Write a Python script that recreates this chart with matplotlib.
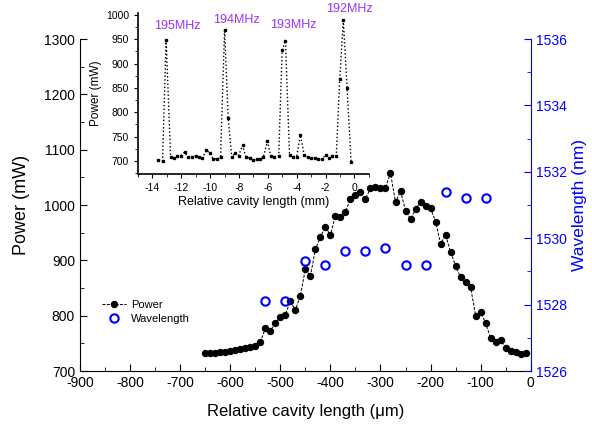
import matplotlib

matplotlib.use('Agg')
import matplotlib.pyplot as plt
from matplotlib.ticker import MultipleLocator

plt.rcParams['font.family'] = ['Liberation Sans', 'DejaVu Sans']
plt.rcParams['axes.unicode_minus'] = False  # plain hyphen like the reference

# main curve: output power vs relative cavity length (um)
power_x = list(range(-650, 0, 10))
power_mw = [
  732, 732, 733, 734, 735, 736, 738, 740, 741, 743,
  746, 752, 777, 773, 786, 798, 802, 826, 810, 836,
  884, 871, 920, 942, 961, 945, 981, 979, 988, 1011,
  1018, 1024, 1011, 1030, 1032, 1031, 1031, 1058, 1005, 1025,
  990, 975, 992, 1006, 999, 994, 970, 930, 946, 915,
  890, 869, 861, 851, 800, 807, 786, 760, 753, 756,
  741, 737, 735, 731, 733,
]

# lasing wavelength (nm)
wl_x = [-530, -490, -450, -410, -370, -330, -290, -250, -210, -170, -130, -90]
wl_nm = [1528.1, 1528.1, 1529.3, 1529.2, 1529.6, 1529.6, 1529.7, 1529.2,
         1529.2, 1531.4, 1531.2, 1531.2]

# inset: power vs relative cavity length (mm)
inset_x = [
  -13.6, -13.3, -13.05, -12.74, -12.5, -12.27, -12.04, -11.76, -11.53, -11.23,
  -11.0, -10.76, -10.53, -10.26, -10.02, -9.79, -9.5, -9.28, -9.0, -8.75,
  -8.5, -8.26, -8.03, -7.75, -7.52, -7.24, -7.01, -6.78, -6.54, -6.31,
  -6.04, -5.8, -5.55, -5.25, -5.01, -4.78, -4.5, -4.27, -4.01, -3.74,
  -3.49, -3.21, -2.98, -2.75, -2.51, -2.28, -2.0, -1.77, -1.54, -1.26,
  -1.02, -0.77, -0.51, -0.23,
]
inset_p = [
  701, 700, 949, 708, 705, 710, 711, 718, 707, 709,
  710, 708, 706, 722, 716, 704, 704, 707, 970, 789,
  707, 717, 711, 732, 707, 706, 701, 703, 703, 708,
  740, 711, 709, 710, 927, 947, 712, 709, 709, 753,
  713, 707, 705, 705, 703, 703, 712, 706, 710, 710,
  869, 989, 849, 698,
]
peak_labels = ['195MHz', '194MHz', '193MHz', '192MHz']
peak_label_x = [-12.3, -8.2, -4.25, -0.35]
peak_label_y = [977, 989, 979, 1013]

BLUE = '#0000ff'
PURPLE = '#9933ff'

fig = plt.figure(figsize=(5.92, 4.30), dpi=100)
ax = fig.add_axes([0.1351, 0.1372, 0.7614, 0.7721])
ax2 = ax.twinx()

ln1, = ax.plot(power_x, power_mw, '--o', color='black', lw=0.7, ms=4.3,
               dashes=(3, 1.5), label='Power', zorder=3)
ln2, = ax2.plot(wl_x, wl_nm, 'o', ls='none', mfc='none', mec=BLUE, mew=1.5,
                ms=6, label='Wavelength')

ax.set_xlim(-900, 0)
ax.set_ylim(700, 1300)
ax2.set_ylim(1526, 1536)
ax.xaxis.set_major_locator(MultipleLocator(100))
ax.xaxis.set_minor_locator(MultipleLocator(50))
ax.yaxis.set_major_locator(MultipleLocator(100))
ax.yaxis.set_minor_locator(MultipleLocator(50))
ax2.yaxis.set_major_locator(MultipleLocator(2))
ax2.yaxis.set_minor_locator(MultipleLocator(1))

for a in (ax, ax2):
  a.spines['top'].set_visible(False)
ax2.spines['left'].set_visible(False)
ax2.spines['bottom'].set_visible(False)
ax2.spines['right'].set_color(BLUE)
ax.spines['right'].set_visible(False)

ax.tick_params(which='both', direction='in', labelsize=10)
ax.tick_params(which='major', length=5)
ax.tick_params(which='minor', length=3)
ax2.tick_params(which='both', direction='in', colors=BLUE, labelsize=10)
ax2.tick_params(which='major', length=5)
ax2.tick_params(which='minor', length=3)

ax.set_xlabel('Relative cavity length (μm)', fontsize=12, labelpad=10)
ax.set_ylabel('Power (mW)', fontsize=13, labelpad=10)
ax2.set_ylabel('Wavelength (nm)', fontsize=12.5, color=BLUE, labelpad=4)

fig.legend(handles=[ln1, ln2], loc='upper left', bbox_to_anchor=(0.155, 0.325),
           frameon=False, fontsize=8, handlelength=2.2, handletextpad=0.4,
           labelspacing=0.3)

# inset
ins = fig.add_axes([0.2331, 0.5953, 0.390, 0.3744])
ins.patch.set_alpha(0)
ins.plot(inset_x, inset_p, ':', color='black', lw=1, marker='s', ms=1.5)
ins.set_xlim(-15, 1)
ins.set_ylim(673, 1004)
ins.xaxis.set_major_locator(MultipleLocator(2))
ins.xaxis.set_minor_locator(MultipleLocator(1))
ins.yaxis.set_major_locator(MultipleLocator(50))
ins.yaxis.set_minor_locator(MultipleLocator(25))
ins.spines['top'].set_visible(False)
ins.spines['right'].set_visible(False)
ins.spines['left'].set_linewidth(1.2)
ins.spines['bottom'].set_linewidth(1.2)
ins.tick_params(which='both', direction='out', labelsize=7.5)
ins.tick_params(which='major', length=3)
ins.tick_params(which='minor', length=2)
ins.set_xlabel('Relative cavity length (mm)', fontsize=9, labelpad=2)
ins.set_ylabel('Power (mW)', fontsize=8.5, labelpad=3)
for lab, lx, ly in zip(peak_labels, peak_label_x, peak_label_y):
  ins.text(lx, ly, lab, color=PURPLE, fontsize=9, ha='center', va='center',
           clip_on=False)

fig.savefig('out.png', dpi=100)
